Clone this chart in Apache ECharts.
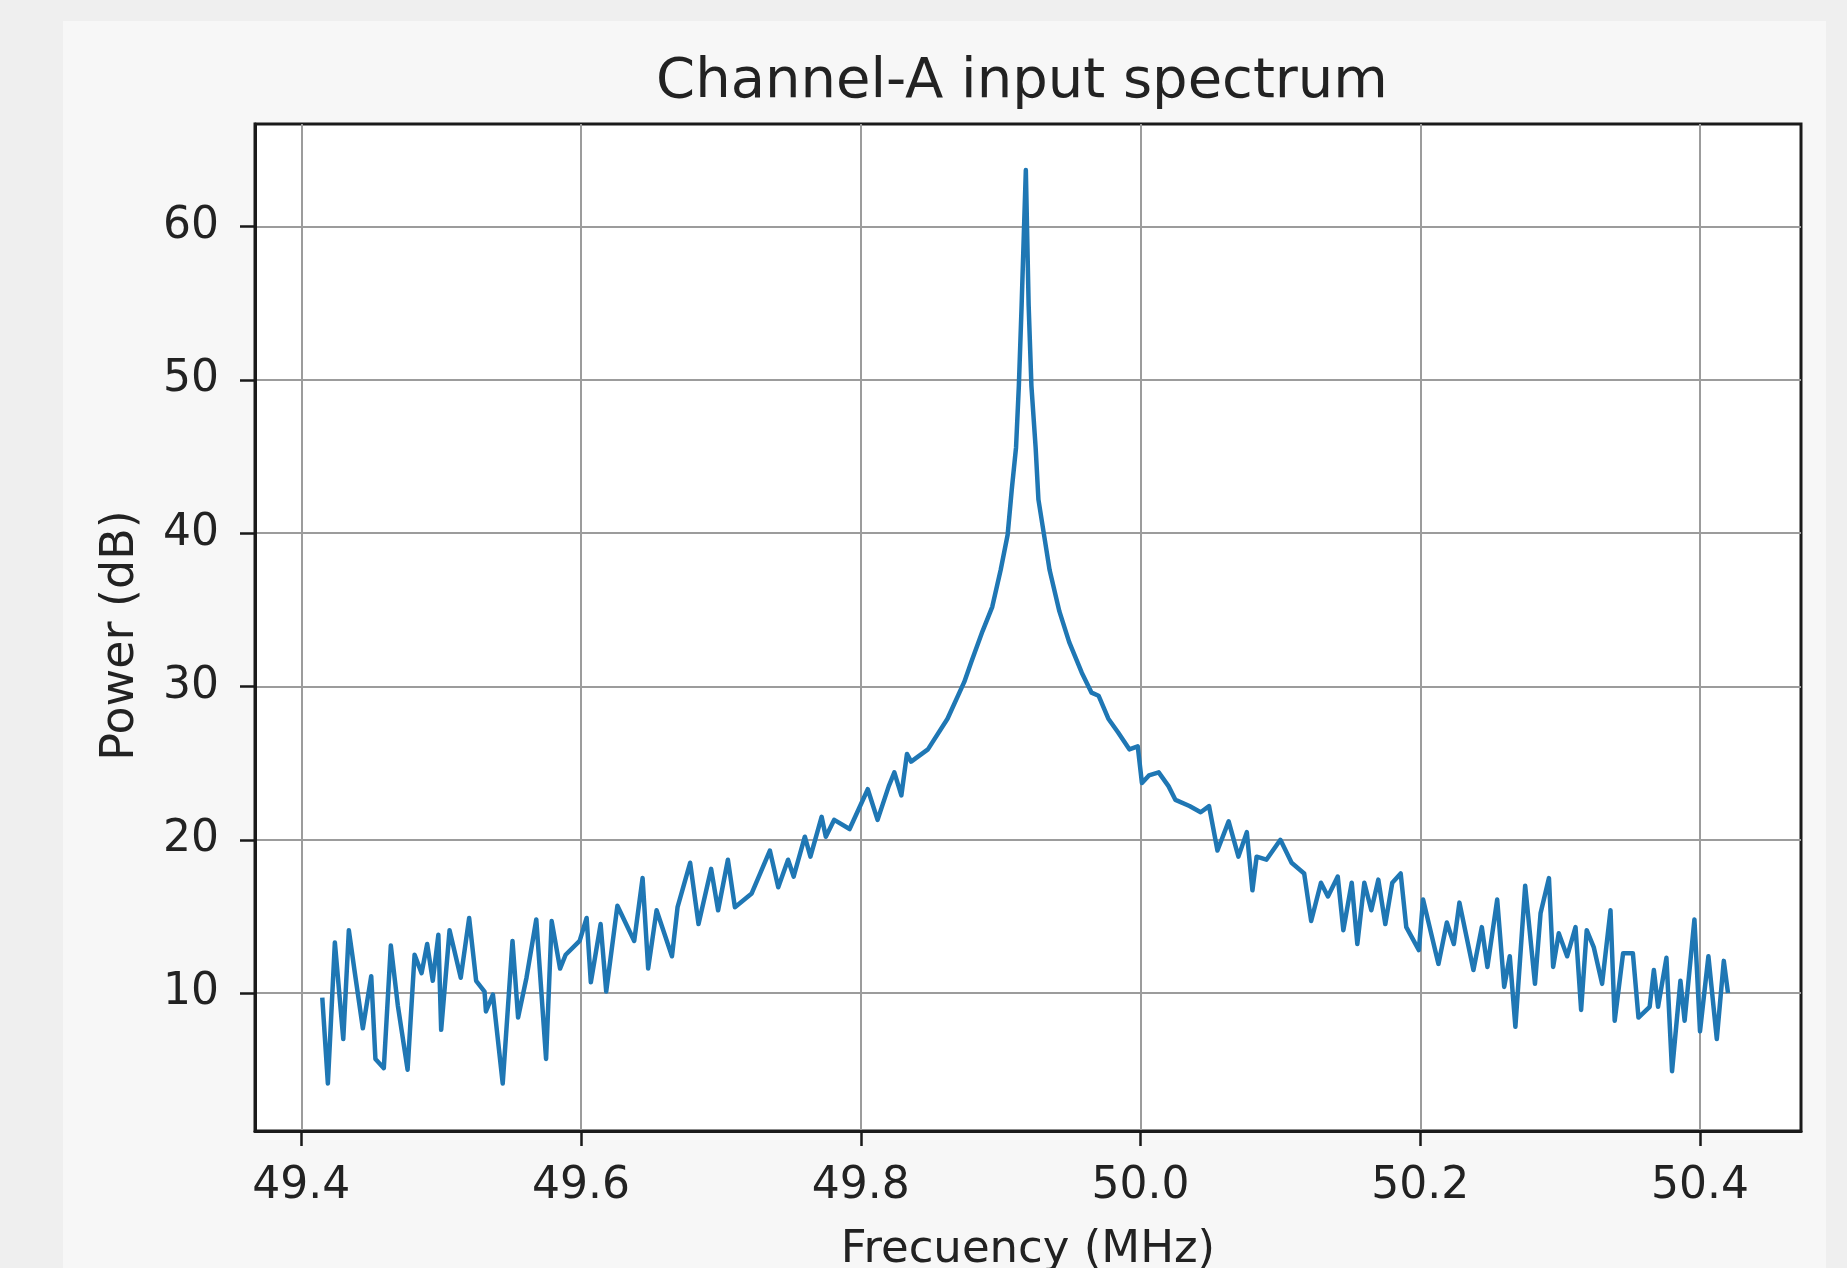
<!DOCTYPE html>
<html>
<head>
<meta charset="utf-8">
<title>Channel-A input spectrum</title>
<script src="https://cdn.jsdelivr.net/npm/echarts@6/dist/echarts.min.js"></script>
<style>
  html, body { margin: 0; padding: 0; background: #efefef; }
  #panel { position: absolute; left: 63px; top: 21px; width: 1763px; height: 1247px; background: #f7f7f7; }
  #chart { position: absolute; left: 0; top: 0; width: 1847px; height: 1268px; }
</style>
</head>
<body>
<div id="panel"></div>
<div id="chart"></div>
<script>
// frequency (MHz) and power (dB)
const freqMHz = [
  49.415, 49.419, 49.424, 49.430, 49.434, 49.438, 49.444, 49.450, 49.453, 49.459,
  49.464, 49.469, 49.476, 49.481, 49.486, 49.490, 49.494, 49.498, 49.500, 49.506,
  49.514, 49.520, 49.525, 49.531, 49.532, 49.537, 49.544, 49.551, 49.555, 49.561,
  49.568, 49.575, 49.579, 49.585, 49.589, 49.599, 49.604, 49.607, 49.614, 49.618,
  49.626, 49.638, 49.644, 49.648, 49.654, 49.665, 49.669, 49.678, 49.684, 49.693,
  49.698, 49.705, 49.710, 49.722, 49.735, 49.741, 49.748, 49.752, 49.760, 49.764,
  49.772, 49.775, 49.781, 49.792, 49.805, 49.812, 49.820, 49.824, 49.829, 49.833,
  49.836, 49.848, 49.862, 49.874, 49.879, 49.887, 49.894, 49.900, 49.905, 49.908,
  49.911, 49.913, 49.915, 49.918, 49.920, 49.922, 49.925, 49.927, 49.931, 49.935,
  49.942, 49.949, 49.958, 49.965, 49.970, 49.977, 49.984, 49.992, 49.998, 50.001,
  50.006, 50.013, 50.020, 50.025, 50.035, 50.043, 50.049, 50.055, 50.063, 50.070,
  50.076, 50.080, 50.083, 50.090, 50.100, 50.108, 50.117, 50.122, 50.129, 50.134,
  50.141, 50.145, 50.151, 50.155, 50.160, 50.165, 50.170, 50.175, 50.180, 50.186,
  50.190, 50.199, 50.202, 50.213, 50.219, 50.224, 50.228, 50.238, 50.244, 50.248,
  50.255, 50.260, 50.264, 50.268, 50.275, 50.282, 50.286, 50.292, 50.295, 50.299,
  50.305, 50.311, 50.315, 50.319, 50.324, 50.330, 50.336, 50.339, 50.345, 50.352,
  50.356, 50.364, 50.367, 50.370, 50.376, 50.380, 50.386, 50.389, 50.396, 50.400,
  50.406, 50.412, 50.417, 50.420
]
const powerDb = [
  9.7, 4.1, 13.3, 7.0, 14.1, 11.5, 7.7, 11.1, 5.7, 5.1,
  13.1, 9.2, 5.0, 12.5, 11.3, 13.2, 10.8, 13.8, 7.6, 14.1,
  11.0, 14.9, 10.8, 10.1, 8.8, 9.9, 4.1, 13.4, 8.4, 11.0,
  14.8, 5.7, 14.7, 11.6, 12.5, 13.4, 14.9, 10.7, 14.5, 10.1,
  15.7, 13.4, 17.5, 11.6, 15.4, 12.4, 15.6, 18.5, 14.5, 18.1,
  15.4, 18.7, 15.6, 16.5, 19.3, 16.9, 18.7, 17.6, 20.2, 18.9,
  21.5, 20.2, 21.3, 20.7, 23.3, 21.3, 23.5, 24.4, 22.9, 25.6,
  25.1, 25.9, 27.9, 30.3, 31.6, 33.6, 35.2, 37.6, 39.9, 42.9,
  45.6, 49.6, 54.9, 63.7, 54.9, 49.6, 45.6, 42.2, 39.9, 37.6,
  34.9, 32.9, 30.9, 29.6, 29.4, 27.9, 27.0, 25.9, 26.1, 23.7,
  24.2, 24.4, 23.5, 22.6, 22.2, 21.8, 22.2, 19.3, 21.2, 18.9,
  20.5, 16.7, 18.9, 18.7, 20.0, 18.5, 17.8, 14.7, 17.2, 16.3,
  17.6, 14.1, 17.2, 13.2, 17.2, 15.4, 17.4, 14.5, 17.2, 17.8,
  14.3, 12.8, 16.1, 11.9, 14.6, 13.2, 15.9, 11.5, 14.3, 11.7,
  16.1, 10.4, 12.4, 7.8, 17.0, 10.6, 15.2, 17.5, 11.7, 13.9,
  12.4, 14.3, 8.9, 14.1, 13.0, 10.6, 15.4, 8.2, 12.6, 12.6,
  8.4, 9.1, 11.5, 9.1, 12.3, 4.9, 10.8, 8.2, 14.8, 7.5,
  12.4, 7.0, 12.1, 10.0
]
const xTicks = [49.4, 49.6, 49.8, 50.0, 50.2, 50.4]
const yTicks = [10, 20, 30, 40, 50, 60]

const textColor = '#222222'
const font = 'DejaVu Sans'

const chart = echarts.init(document.getElementById('chart'))

const option = {
  animation: false,
  backgroundColor: 'transparent',
  textStyle: { fontFamily: font },
  title: {
    text: 'Channel-A input spectrum',
    left: 1017,
    top: 49,
    textAlign: 'center',
    textStyle: { fontSize: 56, fontWeight: 'normal', color: textColor, fontFamily: font },
  },
  grid: {
    left: 255,
    right: 46,
    top: 124,
    bottom: 137,
    outerBoundsMode: 'none',
    show: true,
    backgroundColor: '#ffffff',
    borderColor: '#1a1a1a',
    borderWidth: 3,
  },
  xAxis: {
    type: 'value',
    min: 49.3669,
    max: 50.4722,
    name: 'Frecuency (MHz)',
    nameLocation: 'middle',
    nameGap: 97,
    nameTextStyle: { fontSize: 45, color: textColor, fontFamily: font },
    axisLine: { show: true, lineStyle: { color: '#1a1a1a', width: 3 } },
    axisTick: { show: true, length: 15, customValues: xTicks, lineStyle: { color: '#1a1a1a', width: 2.5 } },
    axisLabel: {
      customValues: xTicks,
      formatter: v => v.toFixed(1),
      fontSize: 44,
      color: textColor,
      margin: 34,
      fontFamily: font,
    },
    splitLine: { show: true, lineStyle: { color: '#9c9c9c', width: 2 } },
  },
  yAxis: {
    type: 'value',
    min: 1.0,
    max: 66.7,
    name: 'Power (dB)',
    nameLocation: 'middle',
    nameRotate: 90,
    nameGap: 111,
    nameTextStyle: { fontSize: 46, color: textColor, fontFamily: font, padding: [0, 16, 0, 0] },
    axisLine: { show: true, lineStyle: { color: '#1a1a1a', width: 3 } },
    axisTick: { show: true, length: 15, customValues: yTicks, lineStyle: { color: '#1a1a1a', width: 2.5 } },
    axisLabel: {
      customValues: yTicks,
      fontSize: 44,
      color: textColor,
      margin: 36,
      padding: [6, 0, 0, 0],
      fontFamily: font,
    },
    splitLine: { show: true, lineStyle: { color: '#9c9c9c', width: 2 } },
  },
  series: [
    {
      type: 'line',
      data: freqMHz.map((f, i) => [f, powerDb[i]]),
      showSymbol: false,
      clip: true,
      lineStyle: { color: '#1f77b4', width: 4.5, join: 'round' },
    },
  ],
}

chart.setOption(option)
</script>
</body>
</html>
